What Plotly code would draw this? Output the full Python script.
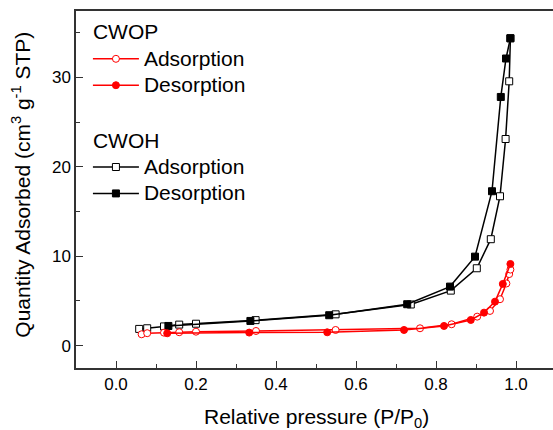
import plotly.graph_objects as go

# CWOH (black squares)
cwoh_ads_x = [0.058, 0.078, 0.12, 0.158, 0.2, 0.349, 0.549, 0.737, 0.837, 0.902, 0.937, 0.96, 0.974, 0.983, 0.986]
cwoh_ads_y = [1.87, 1.94, 2.15, 2.35, 2.45, 2.85, 3.5, 4.6, 6.15, 8.65, 11.9, 16.7, 23.1, 29.55, 34.36]
cwoh_des_x = [0.986, 0.975, 0.962, 0.94, 0.8975, 0.835, 0.728, 0.533, 0.336, 0.131]
cwoh_des_y = [34.36, 32.1, 27.8, 17.26, 9.95, 6.6, 4.63, 3.4, 2.76, 2.2]

# CWOP (red circles)
cwop_ads_x = [0.064, 0.078, 0.12, 0.158, 0.2, 0.35, 0.549, 0.76, 0.839, 0.903, 0.935, 0.96, 0.976, 0.983, 0.986]
cwop_ads_y = [1.27, 1.39, 1.45, 1.5, 1.56, 1.64, 1.75, 1.94, 2.39, 3.24, 3.88, 5.19, 6.95, 8.0, 8.5]
cwop_des_x = [0.986, 0.967, 0.9475, 0.92, 0.887, 0.82, 0.72, 0.528, 0.333, 0.128]
cwop_des_y = [9.13, 6.9, 4.92, 3.69, 2.87, 2.2, 1.75, 1.49, 1.46, 1.38]

x_ticks = [0.0, 0.2, 0.4, 0.6, 0.8, 1.0]
x_tick_labels = ["0.0", "0.2", "0.4", "0.6", "0.8", "1.0"]
y_ticks = [0, 10, 20, 30]
y_tick_labels = ["0", "10", "20", "30"]

RED = "#FF0000"
BLACK = "#000000"
FONT = "Liberation Sans, Arial, sans-serif"

fig = go.Figure()

def big(t):
    return '<span style="font-size:21px">' + t + '</span>'

def add(x, y, name, group, color, filled, symbol, rank):
    fig.add_trace(go.Scatter(
        x=x, y=y, name=big(name), mode="lines+markers",
        legendgroup=group,
        legendgrouptitle=dict(text=big(group), font=dict(size=18, family=FONT, color="black")),
        legendrank=rank,
        line=dict(color=color, width=1.5),
        marker=dict(symbol=symbol, size=7,
                    color=color if filled else "white",
                    line=dict(color=color, width=1)),
    ))

add(cwoh_ads_x, cwoh_ads_y, "Adsorption", "CWOH", BLACK, False, "square", 3)
add(cwoh_des_x, cwoh_des_y, "Desorption", "CWOH", BLACK, True, "square", 4)
add(cwop_ads_x, cwop_ads_y, "Adsorption", "CWOP", RED, False, "circle", 1)
add(cwop_des_x, cwop_des_y, "Desorption", "CWOP", RED, True, "circle", 2)

axis_common = dict(
    showline=True, linecolor="#333333", linewidth=1.5,
    ticks="inside", tickcolor="#333333", tickwidth=1.3, ticklen=7,
    showgrid=False, zeroline=False,
    tickfont=dict(size=17, family=FONT, color="black"),
)

fig.update_xaxes(range=[-0.1, 1.0925], tickvals=x_ticks, ticktext=x_tick_labels,
                 mirror=True,
                 minor=dict(dtick=0.1, tick0=0, ticks="inside", ticklen=4, tickcolor="#333333", tickwidth=1.3),
                 **axis_common)
fig.update_yaxes(range=[-2.5, 37.41], tickvals=y_ticks, ticktext=y_tick_labels,
                 mirror=False,
                 minor=dict(dtick=5, tick0=0, ticks="inside", ticklen=4, tickcolor="#333333", tickwidth=1.3),
                 **axis_common)

fig.add_annotation(text="Relative pressure (P/P<sub>0</sub>)", xref="paper", yref="paper",
                   x=0.504, y=-0.098, xanchor="center", yanchor="top", showarrow=False,
                   font=dict(size=21, family=FONT, color="black"))
fig.add_annotation(text="Quantity Adsorbed (cm<sup>3</sup> g<sup>-1</sup> STP)", xref="paper", yref="paper",
                   x=-0.117, y=0.514, xanchor="center", yanchor="middle", showarrow=False, textangle=-90,
                   font=dict(size=21, family=FONT, color="black"))

fig.update_layout(
    width=553, height=430,
    margin=dict(l=76, r=0, t=11, b=62),
    paper_bgcolor="white", plot_bgcolor="white",
    showlegend=True,
    legend=dict(x=0.025, y=0.991, xanchor="left", yanchor="top",
                traceorder="grouped", tracegroupgap=29,
                bgcolor="rgba(0,0,0,0)", borderwidth=0,
                font=dict(size=18, family=FONT, color="black"),
                itemwidth=46),
    font=dict(family=FONT),
)

fig.write_html("out.html")
